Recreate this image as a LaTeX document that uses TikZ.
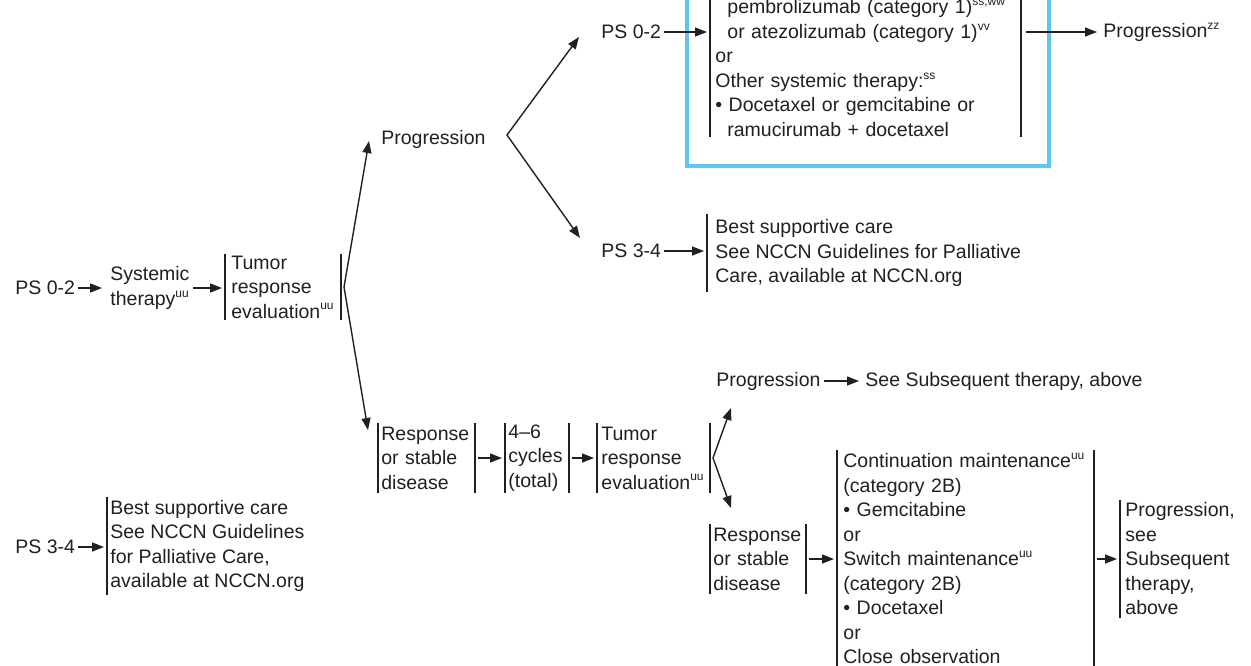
\documentclass[tikz,border=0pt]{standalone}
\usepackage{fontspec}
\setmainfont{Liberation Sans}
\usetikzlibrary{arrows.meta,calc}
\definecolor{ink}{RGB}{35,31,32}
\definecolor{hl}{RGB}{94,197,238}
\newcommand\sps[1]{\raisebox{0.42em}{\fontsize{6pt}{6.5pt}\selectfont #1}}
\begin{document}
\begin{tikzpicture}[x=0.5pt,y=-0.5pt,
  every node/.style={font=\fontsize{9.75pt}{12.25pt}\selectfont, text=ink, inner sep=0pt},
  lbl/.style={anchor=west, align=left},
  bline/.style={draw=ink, line width=0.75pt},
  brk/.style={anchor=west, align=left, inner ysep=0pt, minimum height=35pt,
    append after command={(\tikzlastnode.north west) edge[bline] (\tikzlastnode.south west)
                          (\tikzlastnode.north east) edge[bline] (\tikzlastnode.south east)}},
  lbrk/.style={anchor=west, align=left, inner ysep=0pt,
    append after command={(\tikzlastnode.north west) edge[bline] (\tikzlastnode.south west)}},
  arr/.style={draw=ink, line width=0.7pt, -{Triangle[length=6pt,width=4.5pt]}, shorten <=1.5pt, shorten >=1.5pt},
  varr/.style={draw=ink, line width=0.7pt, {Triangle[length=6pt,width=4.5pt]}-{Triangle[length=6pt,width=4.5pt]}},
  hlbox/.style={draw=hl, line width=2pt}
]
\useasboundingbox (0,0) rectangle (1251,665);
\fill[white] (0,0) rectangle (1251,665);
\clip (0,0) rectangle (1251,665);
\coordinate (topedge) at (0,-10);
\coordinate (botedge) at (0,680);

% ---- left column
\node[lbl] (ps02a) at (15,288) {PS 0-2};
\node[lbl] (sys) at (110,288) {Systemic\\therapy\sps{uu}};
\node[brk, inner xsep=3pt, text width=51.5pt, minimum height=33pt] (tre) at (225,287) {Tumor\\response\\evaluation\sps{uu}};
\draw[arr, shorten >=4pt] (ps02a.east) -- (sys.west);
\draw[arr] (sys.east) -- (tre.west |- sys.east);

\coordinate (v1) at (344,287);
\coordinate (t1u) at (369,141);
\coordinate (t1d) at (368,430);
\draw[varr] (t1u) -- (v1) -- (t1d);

% ---- progression (upper)
\node[lbl] (prog1) at (381,139) {Progression};
\coordinate (v2) at (507,135);
\coordinate (t2u) at (579,37);
\coordinate (t2d) at (580,238);
\draw[varr] (t2u) -- (v2) -- (t2d);

\node[lbl] (ps02b) at (601,32) {PS 0-2};
\node[anchor=south west, align=left, inner xsep=2.5pt, inner ysep=0pt, text width=150pt] (tb) at (710,137)
  {\hspace*{6pt}pembrolizumab (category 1)\sps{ss,ww}\\
   \hspace*{6pt}or atezolizumab (category 1)\sps{vv}\\
   or\\
   Other systemic therapy:\sps{ss}\\
   • Docetaxel or gemcitabine or\\
   \hspace*{6pt}ramucirumab + docetaxel};
\draw[bline] (tb.south west) -- (tb.south west |- topedge);
\draw[bline] (tb.south east) -- (tb.south east |- topedge);
\draw[hlbox] (687,-10) rectangle (1049,166);
\node[lbl] (prog2) at (1103,32) {Progression\sps{zz}};
\draw[arr] (ps02b.east) -- (tb.west |- ps02b.east);
\draw[arr, shorten <=2.5pt, shorten >=3pt] (tb.east |- prog2.west) -- (prog2.west);

\node[lbl] (ps34a) at (601,251) {PS 3-4};
\node[lbrk, inner xsep=4pt, minimum height=38.5pt] (bsc1) at (707,253)
  {Best supportive care\\See NCCN Guidelines for Palliative\\Care, available at NCCN.org};
\draw[arr] (ps34a.east) -- (bsc1.west |- ps34a.east);

% ---- response (lower)
\node[brk, inner xsep=1.5pt, text width=45pt] (rsd1) at (378,458) {Response\\or stable\\disease};
\node[brk, inner xsep=1.5pt, text width=28.5pt] (cyc) at (505,458) {4--6\\cycles\\(total)};
\node[brk, inner xsep=2pt, text width=52pt] (tre2) at (597,458) {Tumor\\response\\evaluation\sps{uu}};
\draw[arr] (rsd1.east) -- (cyc.west);
\draw[arr] (cyc.east) -- (tre2.west);

\coordinate (v3) at (713,458);
\coordinate (t3u) at (731,408);
\coordinate (t3d) at (731,508);
\draw[varr] (t3u) -- (v3) -- (t3d);

\node[lbl] (prog3) at (716,381) {Progression};
\node[lbl] (ssa) at (865,381) {See Subsequent therapy, above};
\draw[arr, shorten >=3pt] (prog3.east) -- (ssa.west);

\node[brk, inner xsep=1.5pt, text width=44.5pt] (rsd2) at (710,559) {Response\\or stable\\disease};
\node[anchor=north west, align=left, inner xsep=3pt, inner ysep=1.5pt, text width=122pt] (mt) at (837,450)
  {Continuation maintenance\sps{uu}\\
   (category 2B)\\
   • Gemcitabine\\
   or\\
   Switch maintenance\sps{uu}\\
   (category 2B)\\
   • Docetaxel\\
   or\\
   Close observation};
\draw[bline] (mt.north west) -- (mt.north west |- botedge);
\draw[bline] (mt.north east) -- (mt.north east |- botedge);
\node[lbrk, inner xsep=2.5pt, minimum height=58.5pt] (pst) at (1120,559)
  {Progression,\\see\\Subsequent\\therapy,\\above};
\draw[arr] (rsd2.east) -- (mt.west |- rsd2.east);
\draw[arr] (mt.east |- pst.west) -- (pst.west);

% ---- PS 3-4 lower left
\node[lbl] (ps34b) at (15,547) {PS 3-4};
\node[lbrk, inner xsep=1.5pt, minimum height=49pt] (bsc2) at (107,546)
  {Best supportive care\\See NCCN Guidelines\\for Palliative Care,\\available at NCCN.org};
\draw[arr] (ps34b.east) -- (bsc2.west |- ps34b.east);
\end{tikzpicture}
\end{document}
